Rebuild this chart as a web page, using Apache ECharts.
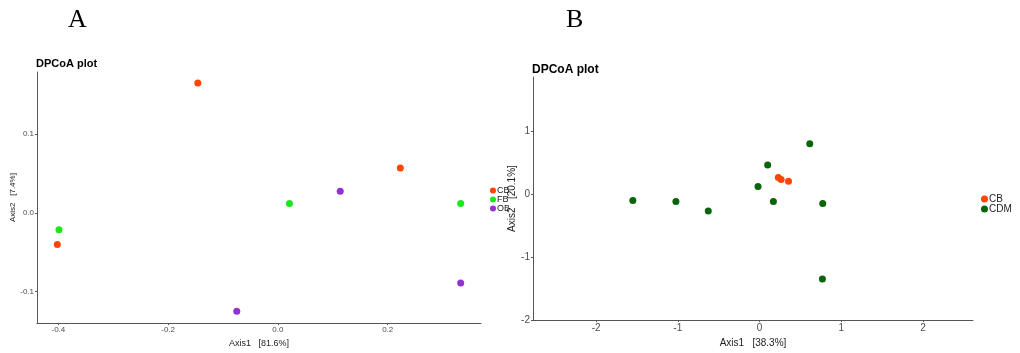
<!DOCTYPE html>
<html>
<head>
<meta charset="utf-8">
<script src="https://cdn.jsdelivr.net/npm/echarts@6/dist/echarts.min.js"></script>
<style>html,body{margin:0;padding:0;background:#fff}#c{width:1020px;height:353px}</style>
</head>
<body>
<div id="c"></div>
<script>
// Panel A data: [Axis1, Axis2]
const groupsA = ['CB', 'FB', 'OB'];
const A_CB = [[-0.146, 0.165], [-0.402, -0.040], [0.223, 0.057]];
const A_FB = [[-0.399, -0.0215], [0.021, 0.012], [0.333, 0.012]];
const A_OB = [[-0.075, -0.125], [0.1135, 0.0275], [0.333, -0.089]];
const A_xTicks = [-0.4, -0.2, 0.0, 0.2];
const A_yTicks = [-0.1, 0.0, 0.1];
const A_xTitle = 'Axis1   [81.6%]';
const A_yTitle = 'Axis2   [7.4%]';

// Panel B data
const groupsB = ['CB', 'CDM'];
const B_CB = [[0.23, 0.26], [0.265, 0.228], [0.355, 0.202]];
const B_CDM = [[-1.55, -0.106], [-1.023, -0.122], [-0.627, -0.27], [-0.018, 0.116], [0.10, 0.46], [0.17, -0.122], [0.615, 0.795], [0.774, -0.153], [0.770, -1.35]];
const B_xTicks = [-2, -1, 0, 1, 2];
const B_yTicks = [-2, -1, 0, 1];
const B_xTitle = 'Axis1   [38.3%]';
const B_yTitle = 'Axis2   [20.1%]';

const colors = {CB: '#FF4500', FB: '#1EE61E', OB: '#9033D0', CDM: '#0A640A'};
const FONT = 'Liberation Sans, Arial, sans-serif';
const axisCol = '#555555';
const labCol = '#4D4D4D';

function mkAxis(idx, min, max, ticks, title, fs, nfs, fmt, gap) {
  return {
    type: 'value', gridIndex: idx, min: min, max: max,
    splitLine: {show: false},
    axisLine: {show: true, onZero: false, lineStyle: {color: axisCol, width: 1}},
    axisTick: {show: true, length: 2, customValues: ticks, lineStyle: {color: axisCol}},
    axisLabel: {customValues: ticks, formatter: fmt, color: labCol, fontSize: fs, fontFamily: FONT, margin: 3},
    name: title, nameLocation: 'middle', nameGap: gap,
    nameTextStyle: {color: '#222', fontSize: nfs, fontFamily: FONT}
  };
}
const f1 = v => Number(v).toFixed(1);
const f0 = v => String(Math.round(v));

function sc(name, data, gi) {
  return {type: 'scatter', name: name, xAxisIndex: gi, yAxisIndex: gi, data: data,
    symbolSize: 7, itemStyle: {color: colors[name], opacity: 1}, emphasis: {disabled: true}};
}

const chart = echarts.init(document.getElementById('c'), null, {renderer: 'canvas'});
chart.setOption({
  animation: false,
  backgroundColor: '#fff',
  title: [
    {text: 'A', left: 63, top: 2, textStyle: {fontFamily: 'Liberation Serif, Times New Roman, serif', fontSize: 26, fontWeight: 'normal', color: '#000'}},
    {text: 'B', left: 561, top: 2, textStyle: {fontFamily: 'Liberation Serif, Times New Roman, serif', fontSize: 26, fontWeight: 'normal', color: '#000'}},
    {text: 'DPCoA plot', left: 36, top: 58, padding: 0, textStyle: {fontFamily: FONT, fontSize: 11, fontWeight: 'bold', color: '#000'}},
    {text: 'DPCoA plot', left: 532, top: 64, padding: 0, textStyle: {fontFamily: FONT, fontSize: 12, fontWeight: 'bold', color: '#000'}}
  ],
  legend: [
    {data: groupsA, orient: 'vertical', left: 490, top: 186, icon: 'circle', itemWidth: 6, itemHeight: 6, itemGap: 0, padding: 0,
      textStyle: {fontFamily: FONT, fontSize: 9, color: '#222', lineHeight: 7.6, padding: [0, 0, 0, -4]}, selectedMode: false},
    {data: groupsB, orient: 'vertical', left: 981, top: 194, icon: 'circle', itemWidth: 7, itemHeight: 7, itemGap: 0, padding: 0,
      textStyle: {fontFamily: FONT, fontSize: 10, color: '#222', lineHeight: 8.4, padding: [0, 0, 0, -4]}, selectedMode: false}
  ],
  grid: [
    {left: 37, top: 72, right: 539, bottom: 29, containLabel: false},
    {left: 533, top: 77, right: 47, bottom: 26, containLabel: false}
  ],
  xAxis: [
    mkAxis(0, -0.439, 0.370, A_xTicks, A_xTitle, 8, 9, f1, 6),
    mkAxis(1, -2.772, 2.613, B_xTicks, B_xTitle, 10, 10, f0, 10)
  ],
  yAxis: [
    mkAxis(0, -0.140, 0.179, A_yTicks, A_yTitle, 8, 8, f1, 15),
    mkAxis(1, -2, 1.853, B_yTicks, B_yTitle, 10, 10, f0, 12)
  ],
  series: [
    sc('CB', A_CB, 0), sc('FB', A_FB, 0), sc('OB', A_OB, 0),
    sc('CB', B_CB, 1), sc('CDM', B_CDM, 1)
  ]
});
</script>
</body>
</html>
